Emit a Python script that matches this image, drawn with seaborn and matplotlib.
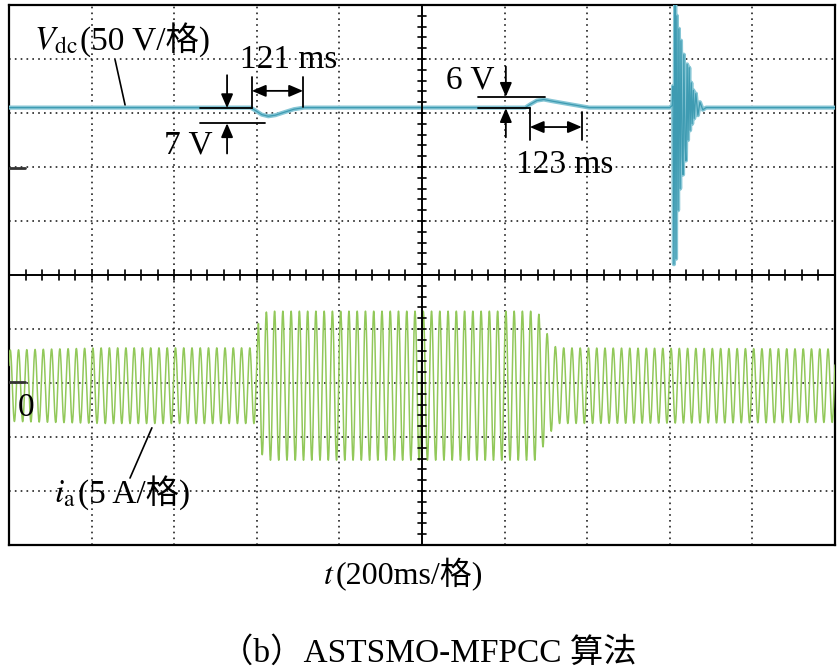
import numpy as np
import pandas as pd
import matplotlib
matplotlib.use("Agg")
import matplotlib.pyplot as plt
import seaborn as sns

# ---------------- data ----------------
# time in ms (200 ms / div, 10 div), Vdc in volts relative to channel-1 marker (50 V/div)
vdc_t = [0, 585, 598, 612, 628, 645, 665, 690, 715,
         1250, 1262, 1278, 1295, 1315, 1345, 1375, 1405,
         1600, 1606, 1608, 1610, 1613, 1615, 1617, 1620, 1622, 1625, 1627, 1630, 1632,
         1634, 1637, 1639, 1642, 1644, 1647, 1649, 1652, 1654, 1657, 1659, 1663, 1668,
         1673, 1680, 1688, 2000]
vdc_v = [55, 55, 52, 48.5, 47, 48, 50.5, 53.5, 55,
         55, 58, 61.5, 62.5, 61, 59, 57, 55,
         55, 57, 75, -90, 158, -85, 140, -40, 128, -20, 117, 10, -7,
         104, 20, 6, 95, 25, 92, 34, 78, 40, 71, 45, 68, 48,
         60, 53, 55, 55]

# phase-a current envelope (A, peak) at 5 A/div
ia_env_t = [0, 230, 600, 604, 625, 1280, 1300, 1325, 2000]
ia_env_a = [3.3, 3.5, 3.5, 6.0, 6.9, 6.9, 5.0, 3.5, 3.4]
ia_freq_hz = 50

# channel display settings
ch1_marker_div, ch1_scale = 2.0, 50.0   # V per div
ch2_marker_div, ch2_scale = -2.0, 5.0   # A per div

# ---------------- figure ----------------
sns.set_theme(style="white")
plt.rcParams["font.family"] = ["Liberation Serif", "Noto Sans CJK SC", "DejaVu Sans"]
plt.rcParams["mathtext.fontset"] = "stix"
plt.rcParams["text.color"] = "black"

fig = plt.figure(figsize=(8.39, 6.69), dpi=100)
ax = fig.add_axes([9 / 839, 124 / 669, 826 / 839, 540 / 669])
ax.set_xlim(0, 2000)
ax.set_ylim(-5, 5)

# graticule
for xv in np.arange(200, 2000, 200):
    if xv != 1000:
        ax.axvline(xv, color="#222222", lw=1.2, ls=(0, (1, 2.5)), zorder=1)
for yv in np.arange(-4, 5, 1):
    if yv != 0:
        ax.axhline(yv, color="#222222", lw=1.2, ls=(0, (1, 2.5)), zorder=1)
ax.axhline(0, color="black", lw=1.4, zorder=4)
ax.axvline(1000, color="black", lw=1.4, zorder=4)
for xv in np.arange(40, 2000, 40):
    ax.plot([xv, xv], [-0.085, 0.085], color="black", lw=1.2, zorder=4)
for yv in np.arange(-4.8, 5, 0.2):
    ax.plot([990, 1010], [yv, yv], color="black", lw=1.2, zorder=4)
for sp in ax.spines.values():
    sp.set_color("black")
    sp.set_linewidth(1.6)
ax.set_xticks([])
ax.set_yticks([])

# channel markers
ax.plot([0, 38], [ch1_marker_div - 0.02] * 2, color="#333333", lw=2, zorder=5)
ax.plot([0, 38], [ch2_marker_div + 0.02] * 2, color="#333333", lw=2, zorder=5)

# current trace
t = np.arange(0, 2000.01, 0.2)
env = np.interp(t, ia_env_t, ia_env_a)
ia = env * np.sin(2 * np.pi * ia_freq_hz * t / 1000.0 + 0.6)
df_i = pd.DataFrame({"t": t, "y": ch2_marker_div - 0.05 + ia / ch2_scale})
sns.lineplot(data=df_i, x="t", y="y", ax=ax, color="#92c85a", lw=1.1,
             estimator=None, sort=False, zorder=3)

# Vdc trace
df_v = pd.DataFrame({"t": vdc_t, "y": ch1_marker_div + np.array(vdc_v) / ch1_scale})
sns.lineplot(data=df_v, x="t", y="y", ax=ax, color="#86c6d5", lw=3.0,
             estimator=None, sort=False, zorder=3)
sns.lineplot(data=df_v, x="t", y="y", ax=ax, color="#3e9bb2", lw=0.9,
             estimator=None, sort=False, zorder=3)

# ---------------- annotations ----------------
k = dict(color="black", lw=1.3, zorder=6)
akw = dict(arrowstyle="-|>,head_length=0.7,head_width=0.3", color="black", lw=1.3,
           shrinkA=0, shrinkB=0)
dkw = dict(arrowstyle="<|-|>,head_length=0.7,head_width=0.3", color="black", lw=1.3,
           shrinkA=0, shrinkB=0)
fs = 24

# event 1 : 7 V / 121 ms
ax.plot([462, 588], [3.09, 3.09], **k)
ax.plot([462, 620], [2.81, 2.81], **k)
ax.annotate("", xy=(528, 3.09), xytext=(528, 3.70), arrowprops=akw, zorder=7)
ax.annotate("", xy=(528, 2.81), xytext=(528, 2.25), arrowprops=akw, zorder=7)
ax.plot([588, 588], [3.09, 3.66], **k)
ax.plot([712, 712], [3.12, 3.66], **k)
ax.annotate("", xy=(588, 3.41), xytext=(712, 3.41), arrowprops=dkw, zorder=7)
ax.text(492, 2.40, "7 V", ha="right", va="center", fontsize=fs, zorder=7)
ax.text(678, 3.98, "121 ms", ha="center", va="center", fontsize=fs, zorder=7)

# event 2 : 6 V / 123 ms
ax.plot([1136, 1298], [3.30, 3.30], **k)
ax.plot([1136, 1261], [3.09, 3.09], **k)
ax.annotate("", xy=(1203, 3.30), xytext=(1203, 3.86), arrowprops=akw, zorder=7)
ax.annotate("", xy=(1203, 3.09), xytext=(1203, 2.55), arrowprops=akw, zorder=7)
ax.plot([1261, 1261], [3.09, 2.50], **k)
ax.plot([1387, 1387], [3.02, 2.50], **k)
ax.annotate("", xy=(1261, 2.74), xytext=(1387, 2.74), arrowprops=dkw, zorder=7)
ax.text(1116, 3.60, "6 V", ha="center", va="center", fontsize=fs, zorder=7)
ax.text(1346, 2.04, "123 ms", ha="center", va="center", fontsize=fs, zorder=7)

# channel labels (math part + plain part so CJK glyphs render)
t1 = ax.text(60, 4.18, r"$V_{\mathrm{dc}}$", ha="left", va="baseline", fontsize=fs, zorder=7)
ax.annotate("(50 V/格)", xy=(1, 4.18), xycoords=(t1, "data"), xytext=(2, 0),
            textcoords="offset points", ha="left", va="baseline", fontsize=fs, zorder=7)
ax.plot([257, 281], [3.98, 3.15], color="black", lw=1.2, zorder=6)
ax.text(20, -2.46, "0", ha="left", va="center", fontsize=fs, zorder=7)
t2 = ax.text(108, -4.22, r"$i_{\mathrm{a}}$", ha="left", va="baseline", fontsize=fs, zorder=7)
ax.annotate("(5 A/格)", xy=(1, -4.22), xycoords=(t2, "data"), xytext=(2, 0),
            textcoords="offset points", ha="left", va="baseline", fontsize=fs, zorder=7)
ax.plot([346, 293], [-2.83, -3.76], color="black", lw=1.2, zorder=6)

# axis label and caption
yb = 1 - 584 / 669
t3 = fig.text(0.385, yb, r"$t$", ha="left", va="baseline", fontsize=23)
ax.annotate("(200ms/格)", xy=(1, yb), xycoords=(t3, "figure fraction"), xytext=(1, 0),
            textcoords="offset points", ha="left", va="baseline", fontsize=23,
            annotation_clip=False)
fig.text(0.51, 1 - 653 / 669, "（b）ASTSMO-MFPCC 算法", ha="center", va="center", fontsize=24)

fig.savefig("out.png", dpi=100)
